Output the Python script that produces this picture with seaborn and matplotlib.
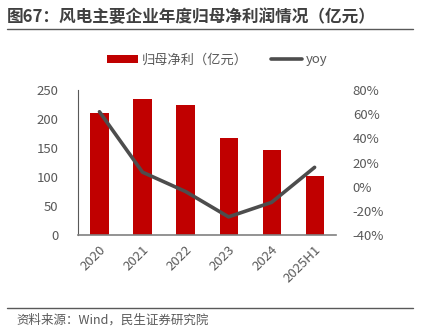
import matplotlib
matplotlib.use("Agg")
import matplotlib.pyplot as plt
import seaborn as sns
import numpy as np
import pandas as pd
from matplotlib.patches import Patch
from matplotlib.lines import Line2D
from matplotlib.ticker import FuncFormatter

categories = ["2020", "2021", "2022", "2023", "2024", "2025H1"]
profit = [210, 234, 224, 167, 146, 101]
yoy = [62, 12, -4, -25, -13, 16]
left_ticks = [0, 50, 100, 150, 200, 250]
right_ticks = [-40, -20, 0, 20, 40, 60, 80]

sns.set_theme(style="white")
plt.rcParams['font.family'] = ['Noto Sans CJK SC', 'DejaVu Sans']
plt.rcParams['axes.unicode_minus'] = False

RED = "#C00000"
LINE = "#4D4D4D"
TXT = "#595959"

fig = plt.figure(figsize=(4.26, 3.34), dpi=100)
ax = fig.add_axes([0.183, 0.2964, 0.606, 0.4341])
df = pd.DataFrame({"cat": categories, "profit": profit})
sns.barplot(data=df, x="cat", y="profit", ax=ax, color=RED, width=0.42,
            saturation=1, edgecolor="none")
ax.set_ylim(0, 250)
ax.set_yticks(left_ticks)
ax.set_xlim(-0.5, len(categories) - 0.5)
ax.set_xlabel("")
ax.set_ylabel("")
for s in ["top", "right"]:
    ax.spines[s].set_visible(False)
ax.spines["left"].set_color("#595959")
ax.spines["bottom"].set_color("#808080")
ax.spines["left"].set_linewidth(0.8)
ax.spines["bottom"].set_linewidth(1.2)
ax.tick_params(axis="y", labelsize=9.5, colors=TXT, length=0, pad=14)
ax.tick_params(axis="x", labelsize=9.5, colors=TXT, length=0, pad=6)
for lbl in ax.get_xticklabels():
    lbl.set_rotation(45)
    lbl.set_ha("right")
    lbl.set_rotation_mode("anchor")

ax2 = ax.twinx()
sns.lineplot(x=np.arange(len(categories)), y=yoy, ax=ax2, color=LINE,
             linewidth=2.6)
ax2.set_ylim(-40, 80)
ax2.set_yticks(right_ticks)
ax2.yaxis.set_major_formatter(FuncFormatter(lambda v, p: f"{int(v)}%"))
for s in ["top", "right", "left", "bottom"]:
    ax2.spines[s].set_visible(False)
ax2.tick_params(axis="y", labelsize=9.5, colors=TXT, length=0, pad=12)
ax2.set_xlim(-0.5, len(categories) - 0.5)

handles = [Patch(facecolor=RED, edgecolor="none"),
           Line2D([0], [0], color=LINE, linewidth=2.6)]
fig.legend(handles, ["归母净利（亿元）", "yoy"], loc="center",
           bbox_to_anchor=(0.51, 1 - 60 / 334), ncol=2, frameon=False,
           fontsize=9.5, labelcolor=TXT, handlelength=2.4, handleheight=0.6,
           columnspacing=1.7, handletextpad=0.3)

fig.text(7 / 426, 1 - 17 / 334, "图67：风电主要企业年度归母净利润情况（亿元）",
         fontsize=12, fontweight="bold", color="#404040", va="center", ha="left")
fig.add_artist(Line2D([7 / 426, 413 / 426], [1 - 29 / 334, 1 - 29 / 334],
                      color="#595959", linewidth=1.0))
fig.add_artist(Line2D([7 / 426, 413 / 426], [1 - 308 / 334, 1 - 308 / 334],
                      color="#595959", linewidth=1.0))
fig.text(16 / 426, 1 - 320 / 334, "资料来源：Wind，民生证券研究院",
         fontsize=9, color=TXT, va="center", ha="left")

fig.savefig("out.png", dpi=100)
